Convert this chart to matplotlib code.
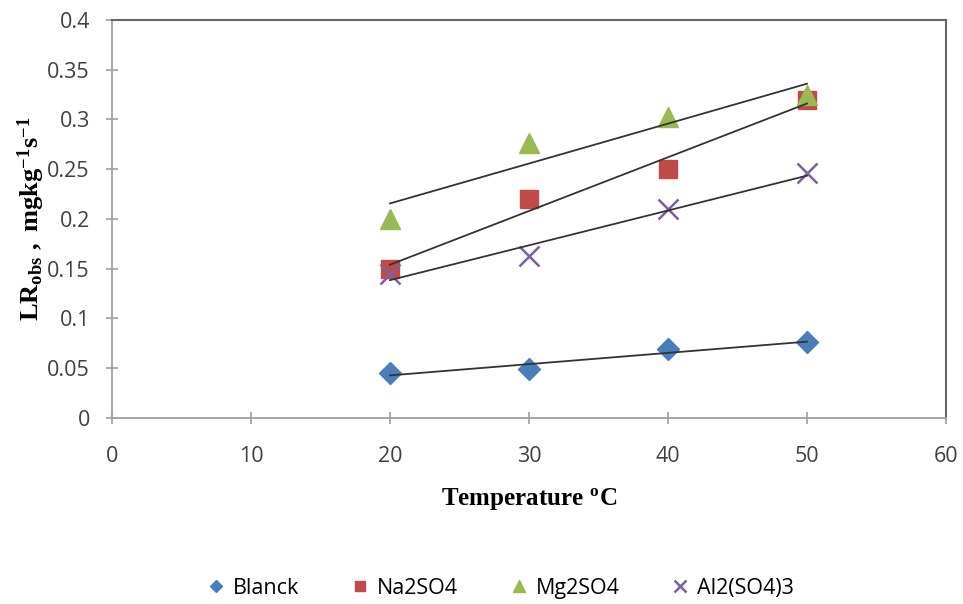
import numpy as np
import matplotlib.pyplot as plt

temperature = [20, 30, 40, 50]
blanck = [0.045, 0.049, 0.069, 0.076]
na2so4 = [0.150, 0.220, 0.250, 0.320]
mg2so4 = [0.200, 0.276, 0.302, 0.325]
al2so43 = [0.145, 0.163, 0.210, 0.246]

series = [
    ("Blanck", blanck, "D", "#4A7EBB", 11),
    ("Na2SO4", na2so4, "s", "#BE4B48", 13),
    ("Mg2SO4", mg2so4, "^", "#98B954", 15),
    ("Al2(SO4)3", al2so43, "x", "#7D60A0", 14),
]

plt.rcParams['mathtext.fontset'] = 'custom'
plt.rcParams['mathtext.rm'] = 'Liberation Serif:bold'
plt.rcParams['mathtext.it'] = 'Liberation Serif:bold'
plt.rcParams['mathtext.bf'] = 'Liberation Serif:bold'

fig = plt.figure(figsize=(9.63, 6.04), dpi=100)
ax = fig.add_axes([0.1163, 0.308, 0.866, 0.659])

x = np.array(temperature)
for name, y, marker, color, ms in series:
    if marker == "x":
        ax.plot(x, y, linestyle="none", marker=marker, color=color, ms=ms,
                mew=1.8, label=name, zorder=2)
    else:
        ax.plot(x, y, linestyle="none", marker=marker, color=color, ms=ms,
                mec=color, label=name, zorder=2)
    # linear trendline
    k, b = np.polyfit(x, y, 1)
    ax.plot(x[[0, -1]], k * x[[0, -1]] + b, color="#333333", lw=1.3, zorder=3)

ax.set_xlim(0, 60)
ax.set_ylim(0, 0.4)
ax.set_xticks(range(0, 61, 10))
ax.set_yticks(np.arange(0, 0.41, 0.05))
ax.set_yticklabels(["0", "0.05", "0.1", "0.15", "0.2", "0.25", "0.3", "0.35", "0.4"])
ax.tick_params(labelsize=15.5, labelcolor="#404040", color="#A0A0A0",
               direction="inout", length=8, width=1.2)
ax.tick_params(axis="y", pad=12)
ax.tick_params(axis="x", pad=16)
for s in ["left", "bottom"]:
    ax.spines[s].set_color("#A0A0A0")
    ax.spines[s].set_linewidth(1.3)
for s in ["top", "right"]:
    ax.spines[s].set_color("#666666")
    ax.spines[s].set_linewidth(1.5)
for lab in ax.get_xticklabels() + ax.get_yticklabels():
    lab.set_family("Open Sans")

ax.set_xlabel(r"$\mathrm{Temperature\ }^{\mathrm{o}}\mathrm{C}$", fontsize=18, labelpad=14)
ax.set_ylabel(r"$\mathrm{LR_{obs}\ ,\ mgkg^{-1}s^{-1}}$", fontsize=19, labelpad=0)

fig.legend(loc="center", bbox_to_anchor=(0.52, 0.026), ncol=4, frameon=False,
           handlelength=0.8, handletextpad=0.4, columnspacing=2.4, markerscale=0.6,
           prop={"family": "Open Sans", "size": 15.5})

fig.savefig("out.png", dpi=100)
